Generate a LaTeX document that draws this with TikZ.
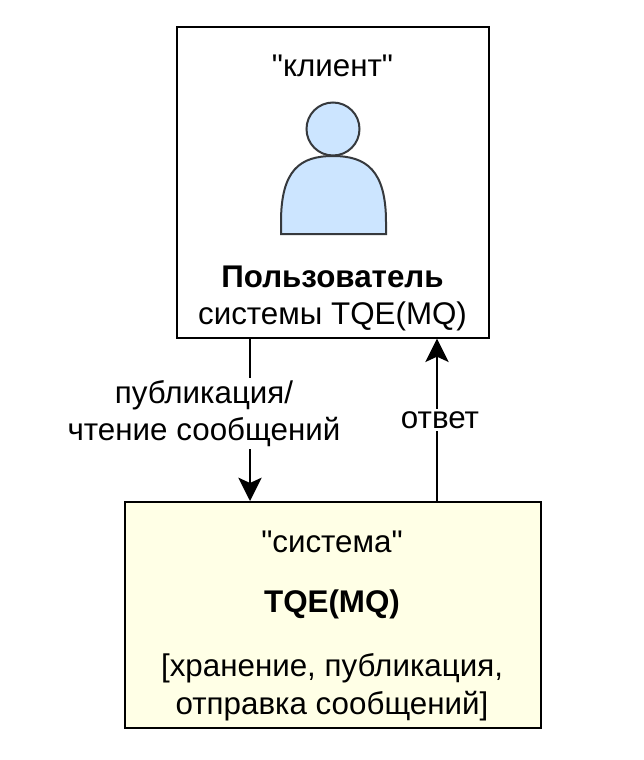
\documentclass[tikz,border=0pt]{standalone}
\usepackage{fontspec}
\setmainfont{Liberation Sans}[Ligatures=TeXOff]
\usetikzlibrary{arrows.meta}
\definecolor{personfill}{HTML}{CCE5FF}
\definecolor{sysfill}{HTML}{FFFFE6}
\definecolor{personline}{HTML}{36393D}
\begin{document}
\begin{tikzpicture}[x=0.75pt,y=-0.75pt,
 box/.style={draw=black,line width=1.5pt,inner sep=0pt},
 lbl/.style={font=\fontsize{23.5pt}{28pt}\selectfont,text=black,inner sep=0pt,anchor=center,align=center},
 conn/.style={draw=black,line width=1.5pt,-{Stealth[length=17.5pt,width=17.5pt,inset=4pt]}},
 edgelbl/.style={lbl,fill=white,inner xsep=1pt,inner ysep=2pt}]
\useasboundingbox (0,0) rectangle (643,760);
\fill[white] (0,0) rectangle (643,760);
\node[box,fill=white,minimum width=233.6pt,minimum height=233.3pt,anchor=north west] (client) at (176.2,25.6) {};
\node[box,fill=sysfill,minimum width=312pt,minimum height=169.5pt,anchor=north west] (sys) at (124,501) {};
\node[lbl] (t1) at (332.5,66) {"клиент"};
\node[lbl] (t2) at (332.5,277) {\textbf{Пользователь}};
\node[lbl] (t3) at (332.5,316.5) {системы TQE(MQ)};
\node[lbl] (t4) at (332,542) {"система"};
\node[lbl] (t5) at (332,604.5) {\textbf{TQE(MQ)}};
\node[lbl] (t6) at (332,668.5) {[хранение, публикация,};
\node[lbl] (t7) at (332,706.5) {отправка сообщений]};
% person
\draw[personline,fill=personfill,line width=1.5pt] (281,234) -- (281,222) .. controls (281,170) and (300,156) .. (333,156) .. controls (366,156) and (386,170) .. (386,222) -- (386,234) -- cycle;
\draw[personline,fill=personfill,line width=1.5pt] (333,129) circle (26.5);
\coordinate (xa) at (250,0);
\coordinate (xb) at (437,0);
\draw[conn] (client.south -| xa) -- (sys.north -| xa);
\draw[conn] (sys.north -| xb) -- (client.south -| xb);
\node[edgelbl,align=center] (l1) at (204,413.5) {публикация/\\чтение сообщений};
\node[edgelbl] (l2) at (440,420) {ответ};
\end{tikzpicture}
\end{document}
